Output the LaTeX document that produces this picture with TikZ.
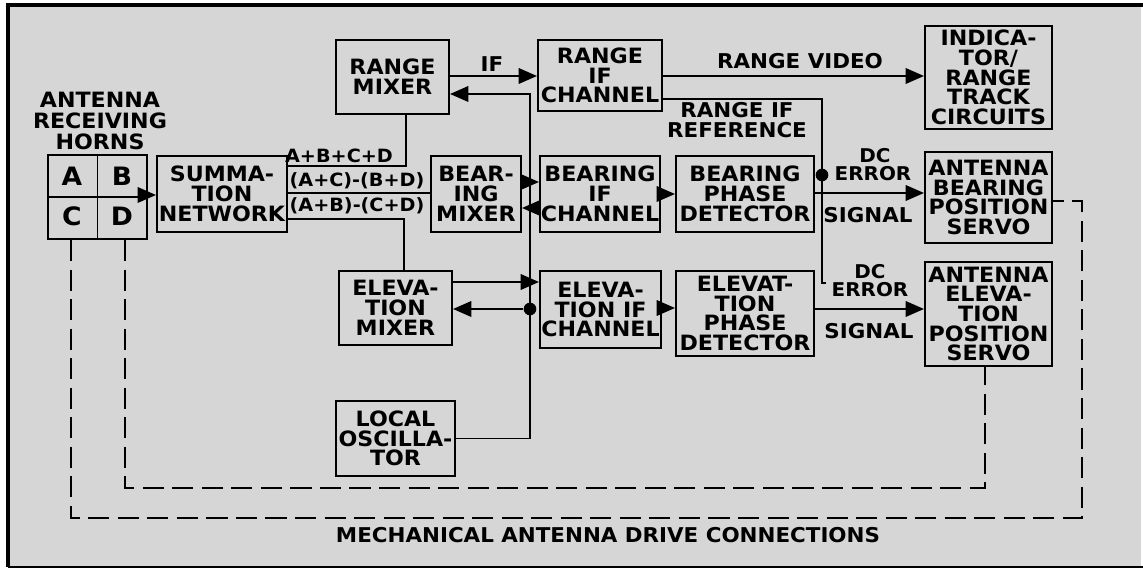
\documentclass[tikz,border=0pt]{standalone}
\usepackage{fontspec}
\setmainfont{DejaVu Sans}[FakeStretch=1.05]
\usepackage{tikz}
\usetikzlibrary{arrows.meta,calc}

\begin{document}
\begin{tikzpicture}[x=0.025cm,y=-0.025cm,>={Triangle[length=13pt,width=11pt]},
  blk/.style={draw,line width=1.4pt,align=center,inner sep=0pt,
    font=\bfseries\fontsize{15}{14}\selectfont},
  lbl/.style={align=center,inner sep=0pt,font=\bfseries\fontsize{14.5}{14.5}\selectfont},
  err/.style={align=center,inner sep=0pt,font=\bfseries\fontsize{13.5}{13.5}\selectfont},
  sig/.style={line width=1.3pt},
  drive/.style={line width=1.4pt,dash pattern=on 15pt off 6pt},
  dot/.style={circle,fill,inner sep=0pt,minimum size=9pt}]
  % frame
  \useasboundingbox (0,0) rectangle (1143,569);
  \fill[white] (0,0) rectangle (1143,569);
  \fill[black!16] (8,5) rectangle (1141,567);
  \draw[line width=3.5pt] (8,567) -- (8,5) -- (1143,5);
  \draw[line width=1.5pt] (8,567) -- (1143,567);

  % antenna horns
  \node[lbl,font=\bfseries\fontsize{15}{15}\selectfont] (hornlbl) at (100,121) {ANTENNA\\RECEIVING\\HORNS};
  \node[blk,minimum width=2.475cm,minimum height=2.1cm] (horns) at (97.5,197) {};
  \draw[line width=1.4pt] (horns.north) -- (horns.south) (horns.west) -- (horns.east);
  \foreach \n/\x/\y in {A/72/176,B/122/176,C/72/216,D/122/216}
    \node[font=\bfseries\fontsize{18}{18}\selectfont,inner sep=0pt] (h\n) at (\x,\y) {\n};

  % blocks
  \node[blk,minimum width=3.25cm,minimum height=1.9cm] (sum) at (222,194) {SUMMA-\\TION\\NETWORK};
  \node[blk,minimum width=2.825cm,minimum height=1.85cm] (rmix) at (392.5,77) {RANGE\\MIXER};
  \node[blk,minimum width=3.1cm,minimum height=1.775cm] (rif) at (600,75.5) {RANGE\\IF\\CHANNEL};
  \node[blk,minimum width=3.175cm,minimum height=2.575cm] (ind) at (988.5,77.5) {INDICA-\\TOR/\\RANGE\\TRACK\\CIRCUITS};
  \node[blk,minimum width=2.25cm,minimum height=1.9cm] (bmix) at (476,194) {BEAR-\\ING\\MIXER};
  \node[blk,minimum width=3cm,minimum height=1.9cm] (bif) at (600,194) {BEARING\\IF\\CHANNEL};
  \node[blk,minimum width=3.45cm,minimum height=1.9cm] (bpd) at (745,194) {BEARING\\PHASE\\DETECTOR};
  \node[blk,minimum width=3.175cm,minimum height=2.275cm] (bsrv) at (988.5,197.5) {ANTENNA\\BEARING\\POSITION\\SERVO};
  \node[blk,minimum width=2.825cm,minimum height=1.85cm] (emix) at (395.5,308) {ELEVA-\\TION\\MIXER};
  \node[blk,minimum width=3.025cm,minimum height=1.925cm] (eif) at (600.5,309.5) {ELEVA-\\TION IF\\CHANNEL};
  \node[blk,minimum width=3.45cm,minimum height=2.125cm] (epd) at (745,313.5) {ELEVAT-\\TION\\PHASE\\DETECTOR};
  \node[blk,minimum width=3.175cm,minimum height=2.6cm] (esrv) at (988.5,314) {ANTENNA\\ELEVA-\\TION\\POSITION\\SERVO};
  \node[blk,minimum width=2.975cm,minimum height=1.875cm] (lo) at (395.5,438.5) {LOCAL\\OSCILLA-\\TOR};

  % summation outputs
  \draw[sig,->] (horns.east |- 0,195) -- (sum.west |- 0,195);
  \draw[sig] (sum.east |- 0,166) -| (rmix.south -| 406,0);
  \draw[sig] (sum.east |- 0,193) -- (bmix.west |- 0,193);
  \draw[sig] (sum.east |- 0,219) -| (emix.north -| 404,0);
  \node[lbl,font=\bfseries\fontsize{13}{13}\selectfont] (s1) at (339,156) {A+B+C+D};
  \node[lbl,font=\bfseries\fontsize{13}{13}\selectfont] (s2) at (357,181) {(A+C)-(B+D)};
  \node[lbl,font=\bfseries\fontsize{13}{13}\selectfont] (s3) at (357,206) {(A+B)-(C+D)};

  % local oscillator bus
  \node[dot] (j1) at (530,309) {};
  \draw[sig,->] (lo.east) -| (530,94) -- (rmix.east |- 0,94);
  \draw[sig,->] (530,208) -- (bmix.east |- 0,208);
  \draw[sig,->] (j1) -- (emix.east |- 0,309);

  % mixers to IF channels
  \draw[sig,->] (rmix.east |- 0,76) -- (rif.west |- 0,76);
  \node[lbl] (iflbl) at (492,64) {IF};
  \draw[sig,->] (bmix.east |- 0,182) -- (bif.west |- 0,182);
  \draw[sig,->] (emix.east |- 0,282) -- (eif.west |- 0,282);
  \draw[sig,->] (bif.east) -- (bpd.west);
  \draw[sig,->] (eif.east |- 0,308) -- (epd.west |- 0,308);

  % range outputs
  \draw[sig,->] (rif.east |- 0,76) -- (ind.west |- 0,76);
  \node[lbl] (rv) at (800,61) {RANGE VIDEO};
  \node[dot] (j2) at (822,175) {};
  \draw[sig] (rif.east |- 0,99) -| (822,283) -- (826,283);
  \node[lbl] (rref) at (737,120) {RANGE IF\\REFERENCE};

  % error signals
  \draw[sig,->] (bpd.east |- 0,193) -- (bsrv.west |- 0,193);
  \node[err] (dc1) at (875,156) {DC};
  \node[err] (er1) at (873,174) {ERROR};
  \node[lbl] (sg1) at (868,215) {SIGNAL};
  \draw[sig,->] (epd.east |- 0,309) -- (esrv.west |- 0,309);
  \node[err] (dc2) at (870,272) {DC};
  \node[err] (er2) at (870,290) {ERROR};
  \node[lbl] (sg2) at (869,331) {SIGNAL};

  % mechanical drive
  \draw[drive] (horns.south -| 71,0) |- (1082,518) |- (bsrv.east |- 0,201);
  \draw[drive] (horns.south -| 125,0) |- (985,488) -- (esrv.south -| 985,0);
  \node[lbl] (mech) at (608,535) {MECHANICAL ANTENNA DRIVE CONNECTIONS};
\end{tikzpicture}
\end{document}
